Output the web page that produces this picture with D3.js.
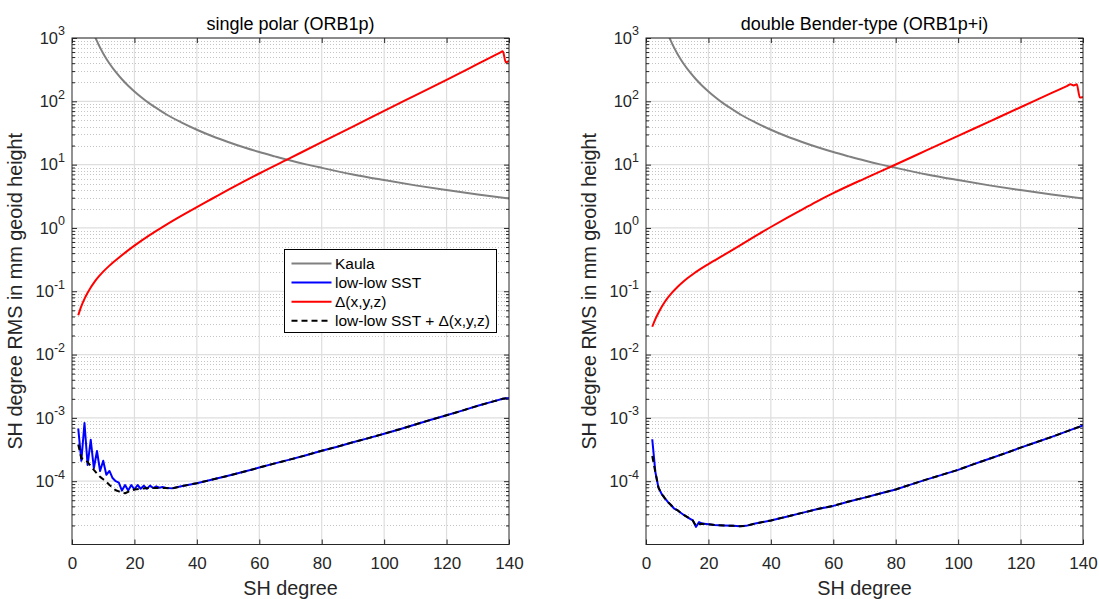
<!DOCTYPE html>
<html>
<head>
<meta charset="utf-8">
<script src="https://cdn.jsdelivr.net/npm/d3@7/dist/d3.min.js"></script>
<style>
  html, body { margin: 0; padding: 0; background: #fff; }
  svg { display: block; font-family: "Liberation Sans", Arial, Helvetica, sans-serif; }
</style>
</head>
<body>
<svg id="chart" width="1099" height="599"></svg>
<script>
// ---------- tick values ----------
const xTickValues = [0, 20, 40, 60, 80, 100, 120, 140];
const yDecadeExponents = [-4, -3, -2, -1, 0, 1, 2, 3];
const yMinorFactors = [2, 3, 4, 5, 6, 7, 8, 9];

// ---------- Kaula rule (same in both panels), mm geoid height ----------
const kaulaDeg = [2, 3, 4, 5, 6, 7, 8, 9, 10, 11, 12, 14, 16, 18, 20, 22, 25, 28, 30, 35, 40, 45, 50, 55, 60, 65, 70, 75, 80, 90, 100, 110, 120, 130, 140];
const kaulaRMS = [14250, 6333, 3563, 2280, 1583, 1163, 891, 704, 570, 471, 396, 291, 223, 176, 143, 118, 91, 73, 63, 46.5, 35.6, 28.1, 22.8, 18.8, 15.8, 13.5, 11.6, 10.1, 8.9, 7.0, 5.7, 4.7, 3.96, 3.37, 2.91];

// ---------- single polar (ORB1p) ----------
const polarDeltaDeg = [2, 3, 4, 5, 6, 7, 8, 10, 12, 15, 20, 25, 30, 35, 40, 45, 50, 60, 70, 80, 90, 100, 110, 120, 130, 136, 137, 138, 139, 140];
const polarDelta = [0.0417, 0.0582, 0.0759, 0.0944, 0.115, 0.136, 0.158, 0.204, 0.254, 0.339, 0.525, 0.776, 1.109, 1.549, 2.138, 2.917, 3.981, 7.244, 12.79, 22.59, 39.81, 70.79, 124.5, 218.8, 389.0, 549.5, 582.1, 616.6, 412, 437];

const polarSSTDeg = [2, 3, 4, 5, 6, 7, 8, 9, 10, 11, 12, 13, 14, 15, 16, 17, 18, 19, 20, 21, 22, 23, 24, 25, 26, 27, 28, 29, 30, 32, 35, 40, 45, 50, 55, 60, 65, 70, 75, 80, 85, 90, 95, 100, 105, 110, 115, 120, 125, 130, 135, 138, 140];
const polarSST = [6.8e-4, 2.1e-4, 8.3e-4, 1.8e-4, 4.5e-4, 1.6e-4, 3.0e-4, 1.45e-4, 2.1e-4, 1.26e-4, 1.45e-4, 1.12e-4, 1.0e-4, 0.95e-4, 0.71e-4, 0.87e-4, 0.71e-4, 0.87e-4, 0.74e-4, 0.87e-4, 0.76e-4, 0.85e-4, 0.76e-4, 0.85e-4, 0.78e-4, 0.83e-4, 0.79e-4, 0.81e-4, 0.79e-4, 0.77e-4, 0.83e-4, 0.93e-4, 1.06e-4, 1.22e-4, 1.41e-4, 1.64e-4, 1.91e-4, 2.21e-4, 2.57e-4, 3.02e-4, 3.51e-4, 4.12e-4, 4.79e-4, 5.62e-4, 6.61e-4, 7.85e-4, 9.33e-4, 1.10e-3, 1.30e-3, 1.55e-3, 1.82e-3, 2.0e-3, 2.07e-3];

const polarSumDeg = [2, 3, 4, 5, 6, 7, 8, 9, 10, 11, 12, 13, 14, 15, 16, 17, 18, 19, 20, 22, 25, 28, 30, 32, 35, 40, 45, 50, 55, 60, 65, 70, 75, 80, 85, 90, 95, 100, 105, 110, 115, 120, 125, 130, 135, 138, 140];
const polarSum = [3.8e-4, 2.3e-4, 2.24e-4, 2.0e-4, 1.74e-4, 1.51e-4, 1.32e-4, 1.17e-4, 1.07e-4, 0.98e-4, 0.87e-4, 0.79e-4, 0.72e-4, 0.69e-4, 0.66e-4, 0.645e-4, 0.68e-4, 0.71e-4, 0.74e-4, 0.76e-4, 0.78e-4, 0.78e-4, 0.78e-4, 0.77e-4, 0.83e-4, 0.93e-4, 1.06e-4, 1.22e-4, 1.41e-4, 1.64e-4, 1.91e-4, 2.21e-4, 2.57e-4, 3.02e-4, 3.51e-4, 4.12e-4, 4.79e-4, 5.62e-4, 6.61e-4, 7.85e-4, 9.33e-4, 1.10e-3, 1.30e-3, 1.55e-3, 1.82e-3, 2.0e-3, 2.07e-3];

// ---------- double Bender-type (ORB1p+i) ----------
const benderDeltaDeg = [2, 3, 4, 5, 6, 7, 8, 10, 12, 15, 20, 25, 30, 35, 40, 45, 50, 55, 60, 70, 80, 90, 100, 110, 120, 130, 135, 136, 137, 138, 139, 140];
const benderDelta = [0.0275, 0.0363, 0.0457, 0.0562, 0.0676, 0.0794, 0.0912, 0.116, 0.143, 0.186, 0.269, 0.376, 0.525, 0.741, 1.035, 1.429, 1.950, 2.661, 3.548, 6.026, 10.05, 16.90, 28.44, 47.86, 80.54, 135.5, 175.8, 185.4, 177.8, 186.2, 114.8, 117.5];

const benderSSTDeg = [2, 3, 4, 5, 6, 7, 8, 9, 10, 11, 12, 13, 14, 15, 16, 17, 18, 20, 22, 25, 28, 30, 32, 35, 40, 45, 50, 55, 60, 65, 70, 75, 80, 85, 90, 95, 100, 105, 110, 115, 120, 125, 130, 135, 140];
const benderSST = [4.6e-4, 1.4e-4, 7.9e-5, 6.3e-5, 5.4e-5, 4.7e-5, 4.2e-5, 3.7e-5, 3.5e-5, 3.2e-5, 2.95e-5, 2.75e-5, 2.57e-5, 2.4e-5, 1.9e-5, 2.26e-5, 2.14e-5, 2.09e-5, 2.04e-5, 2.0e-5, 1.97e-5, 1.95e-5, 1.97e-5, 2.14e-5, 2.4e-5, 2.75e-5, 3.16e-5, 3.63e-5, 4.07e-5, 4.79e-5, 5.5e-5, 6.38e-5, 7.41e-5, 8.9e-5, 1.07e-4, 1.27e-4, 1.51e-4, 1.86e-4, 2.26e-4, 2.75e-4, 3.39e-4, 4.12e-4, 5.01e-4, 6.17e-4, 7.59e-4];

const benderSumDeg = [2, 3, 4, 5, 6, 7, 8, 9, 10, 11, 12, 13, 14, 15, 16, 17, 18, 20, 22, 25, 28, 30, 32, 35, 40, 45, 50, 55, 60, 65, 70, 75, 80, 85, 90, 95, 100, 105, 110, 115, 120, 125, 130, 135, 140];
const benderSum = [2.5e-4, 1.38e-4, 7.9e-5, 6.3e-5, 5.4e-5, 4.7e-5, 4.2e-5, 3.7e-5, 3.5e-5, 3.2e-5, 2.95e-5, 2.75e-5, 2.57e-5, 2.4e-5, 1.98e-5, 2.09e-5, 2.12e-5, 2.09e-5, 2.04e-5, 2.0e-5, 1.97e-5, 1.95e-5, 1.97e-5, 2.14e-5, 2.4e-5, 2.75e-5, 3.16e-5, 3.63e-5, 4.07e-5, 4.79e-5, 5.5e-5, 6.38e-5, 7.41e-5, 8.9e-5, 1.07e-4, 1.27e-4, 1.51e-4, 1.86e-4, 2.26e-4, 2.75e-4, 3.39e-4, 4.12e-4, 5.01e-4, 6.17e-4, 7.59e-4];

// ---------- legend ----------
const legendLabels = ["Kaula", "low-low SST", "\u0394(x,y,z)", "low-low SST + \u0394(x,y,z)"];

// ---------- styles ----------
const styles = {
  kaula: { color: "#808080", dash: null },
  sst:   { color: "#0000ff", dash: null },
  delta: { color: "#ff0000", dash: null },
  sum:   { color: "#000000", dash: "6,4" }
};
const axisColor = "#262626";

const zip = (xs, ys) => xs.map((d, i) => [d, ys[i]]);

const panels = [
  {
    id: "polar", title: "single polar (ORB1p)", left: 72, right: 509, legend: true,
    series: [
      { key: "kaula", data: zip(kaulaDeg, kaulaRMS), smooth: true },
      { key: "sst",   data: zip(polarSSTDeg, polarSST), smooth: false },
      { key: "delta", data: zip(polarDeltaDeg, polarDelta), smooth: true },
      { key: "sum",   data: zip(polarSumDeg, polarSum), smooth: false }
    ]
  },
  {
    id: "bender", title: "double Bender-type (ORB1p+i)", left: 646, right: 1083, legend: false,
    series: [
      { key: "kaula", data: zip(kaulaDeg, kaulaRMS), smooth: true },
      { key: "sst",   data: zip(benderSSTDeg, benderSST), smooth: false },
      { key: "delta", data: zip(benderDeltaDeg, benderDelta), smooth: true },
      { key: "sum",   data: zip(benderSumDeg, benderSum), smooth: false }
    ]
  }
];

const plotTop = 38, plotBottom = 544.5;
const svg = d3.select("#chart");
const defs = svg.append("defs");

panels.forEach(p => {
  const x = d3.scaleLinear().domain([0, 140]).range([p.left, p.right]);
  const y = d3.scaleLog().domain([1e-5, 1e3]).range([plotBottom, plotTop]);
  const g = svg.append("g").attr("class", "panel-" + p.id);

  const majorY = yDecadeExponents.map(e => Math.pow(10, e));
  const minorY = [];
  for (let e = -5; e < 3; e++) yMinorFactors.forEach(k => minorY.push(k * Math.pow(10, e)));

  // white plot background
  g.append("rect").attr("x", p.left).attr("y", plotTop)
    .attr("width", p.right - p.left).attr("height", plotBottom - plotTop).attr("fill", "#fff");

  // minor grid (dotted)
  g.append("g").selectAll("line").data(minorY).join("line")
    .attr("x1", p.left).attr("x2", p.right)
    .attr("y1", d => Math.round(y(d)) + 0.5).attr("y2", d => Math.round(y(d)) + 0.5)
    .attr("stroke", "#c4c4c4").attr("stroke-width", 1).attr("stroke-dasharray", "1,2");

  // major grid
  const grid = g.append("g");
  grid.selectAll("line.gy").data(majorY).join("line").attr("class", "gy")
    .attr("x1", p.left).attr("x2", p.right)
    .attr("y1", d => y(d)).attr("y2", d => y(d))
    .attr("stroke", "#dedede").attr("stroke-width", 1.2);
  grid.selectAll("line.gx").data(xTickValues.slice(1, -1)).join("line").attr("class", "gx")
    .attr("x1", d => x(d)).attr("x2", d => x(d))
    .attr("y1", plotTop).attr("y2", plotBottom)
    .attr("stroke", "#dedede").attr("stroke-width", 1.2);

  // axes (ticks point inward)
  const styleAxis = sel => {
    sel.select(".domain").remove();
    sel.selectAll(".tick line").attr("stroke", axisColor).attr("stroke-width", 1);
  };

  g.append("g").attr("transform", `translate(0,${plotBottom})`)
    .call(d3.axisBottom(x).tickValues(xTickValues).tickSize(-5).tickPadding(12).tickFormat(d3.format("d")))
    .call(styleAxis)
    .call(s => s.selectAll(".tick text").attr("fill", axisColor).attr("font-size", "17px"));

  g.append("g").attr("transform", `translate(0,${plotTop})`)
    .call(d3.axisTop(x).tickValues(xTickValues).tickSize(-5).tickFormat(""))
    .call(styleAxis);

  const yl = g.append("g").attr("transform", `translate(${p.left},0)`)
    .call(d3.axisLeft(y).tickValues(majorY).tickSize(-5).tickPadding(7))
    .call(styleAxis);
  yl.selectAll(".tick text").each(function (d) {
    const t = d3.select(this);
    const e = Math.round(Math.log10(d));
    t.text(null).attr("fill", axisColor).attr("font-size", "16.5px");
    t.append("tspan").text("10");
    t.append("tspan").attr("dy", "-8.3").attr("font-size", "12.5px").text(String(e));
  });
  g.append("g").attr("transform", `translate(${p.left},0)`)
    .call(d3.axisLeft(y).tickValues(minorY).tickSize(-3).tickFormat(""))
    .call(styleAxis);

  g.append("g").attr("transform", `translate(${p.right},0)`)
    .call(d3.axisRight(y).tickValues(majorY).tickSize(-5).tickFormat(""))
    .call(styleAxis);
  g.append("g").attr("transform", `translate(${p.right},0)`)
    .call(d3.axisRight(y).tickValues(minorY).tickSize(-3).tickFormat(""))
    .call(styleAxis);

  // series
  const clipId = "clip-" + p.id;
  defs.append("clipPath").attr("id", clipId).append("rect")
    .attr("x", p.left).attr("y", plotTop).attr("width", p.right - p.left).attr("height", plotBottom - plotTop);
  const lines = g.append("g").attr("clip-path", `url(#${clipId})`);
  p.series.forEach(s => {
    const st = styles[s.key];
    const gen = d3.line().x(d => x(d[0])).y(d => y(d[1]))
      .curve(s.smooth ? d3.curveMonotoneX : d3.curveLinear);
    lines.append("path").datum(s.data)
      .attr("d", gen)
      .attr("fill", "none")
      .attr("stroke", st.color)
      .attr("stroke-width", 2)
      .attr("stroke-linejoin", "round")
      .attr("stroke-dasharray", st.dash);
  });

  // box
  g.append("rect").attr("x", p.left).attr("y", plotTop)
    .attr("width", p.right - p.left).attr("height", plotBottom - plotTop)
    .attr("fill", "none").attr("stroke", axisColor).attr("stroke-width", 1);

  // title and axis labels
  const cx = (p.left + p.right) / 2;
  g.append("text").attr("x", cx).attr("y", 30).attr("text-anchor", "middle")
    .attr("font-size", "18px").attr("fill", "#000").text(p.title);
  g.append("text").attr("x", cx).attr("y", 595).attr("text-anchor", "middle")
    .attr("font-size", "19.8px").attr("fill", axisColor).text("SH degree");
  g.append("text").attr("transform", `translate(${p.left - 50},${(plotTop + plotBottom) / 2}) rotate(-90)`)
    .attr("text-anchor", "middle").attr("font-size", "19.8px").attr("fill", axisColor)
    .text("SH degree RMS in mm geoid height");

  // legend
  if (p.legend) {
    const lg = g.append("g");
    const lx = 284.5, ly = 249.5, lw = 212, lh = 83;
    lg.append("rect").attr("x", lx).attr("y", ly).attr("width", lw).attr("height", lh)
      .attr("fill", "#fff").attr("stroke", "#000").attr("stroke-width", 1);
    p.series.forEach((s, i) => {
      const cy = 263.5 + i * 19.1;
      const st = styles[s.key];
      lg.append("line").attr("x1", lx + 7).attr("x2", lx + 47).attr("y1", cy).attr("y2", cy)
        .attr("stroke", st.color).attr("stroke-width", 2).attr("stroke-dasharray", st.dash);
      lg.append("text").attr("x", lx + 50.5).attr("y", cy).attr("dy", "0.36em")
        .attr("font-size", "15.5px").attr("fill", "#000").text(legendLabels[i]);
    });
  }
});
</script>
</body>
</html>
